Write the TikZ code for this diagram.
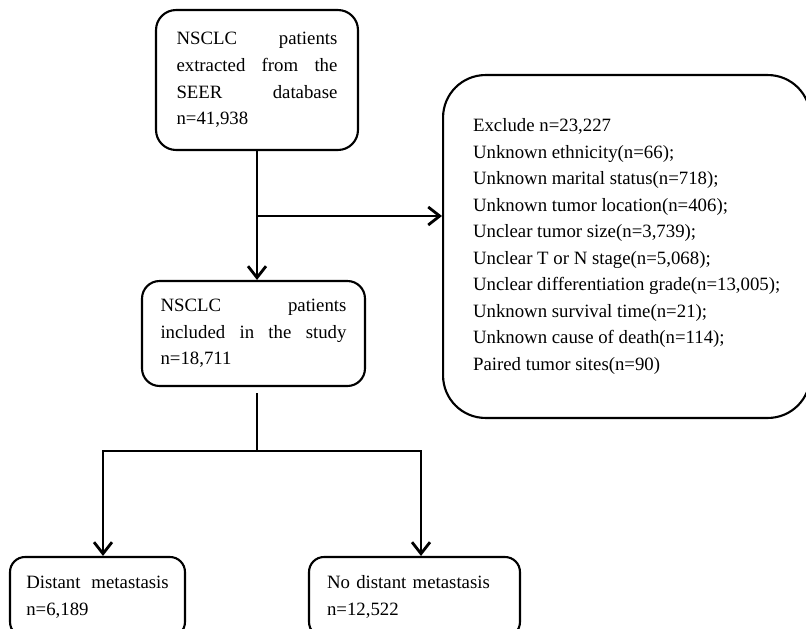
\documentclass[tikz,border=0pt]{standalone}
\usepackage{fontspec}
\setmainfont{Liberation Serif}
\usetikzlibrary{arrows.meta}
\tikzstyle{stepbox} = [rectangle, rounded corners=0.4cm, draw=black, line width=1.2pt, align=left, font=\fontsize{10.7pt}{15.1pt}\selectfont]
\tikzstyle{arrow} = [line width=1.6pt, -{Straight Barb[length=2.3mm, width=3.6mm]}]
\tikzstyle{line} = [line width=1.6pt]

\begin{document}
\begin{tikzpicture}[x=0.02cm, y=-0.02cm]
        \clip (0,0) rectangle (806,629);
        \fill [white] (0,0) rectangle (806,629);

        % Nodes
        \node (source) [stepbox, minimum width=4.04cm, minimum height=2.8cm, text width=3.22cm] at (257,80) {NSCLC\hfill patients\\ extracted\hfill from\hfill the\\ SEER\hfill database\\ n=41,938};
        \node (study) [stepbox, minimum width=4.46cm, minimum height=2.1cm, text width=3.72cm, rounded corners=0.35cm] at (253.5,333.5) {NSCLC\hfill patients\\ included\hfill in\hfill the\hfill study\\ n=18,711};
        \node (exclude) [stepbox, anchor=west, inner xsep=0.6cm, minimum height=6.86cm, rounded corners=0.85cm] at (442,246.5) {Exclude n=23,227\\ Unknown ethnicity(n=66);\\ Unknown marital status(n=718);\\ Unknown tumor location(n=406);\\ Unclear tumor size(n=3,739);\\ Unclear T or N stage(n=5,068);\\ Unclear differentiation grade(n=13,005);\\ Unknown survival time(n=21);\\ Unknown cause of death(n=114);\\ Paired tumor sites(n=90)};
        \node (distant) [stepbox, minimum width=3.5cm, minimum height=1.6cm, text width=2.85cm, rounded corners=0.3cm] at (97.5,597) {Distant\hfill metastasis\\ n=6,189};
        \node (nodistant) [stepbox, minimum width=4.22cm, minimum height=1.6cm, text width=3.5cm, rounded corners=0.3cm] at (414.5,597) {No distant metastasis\\ n=12,522};

        % Arrows
        \coordinate (split) at (257,216);
        \coordinate (fork) at (257,451);
        \coordinate (forkL) at (103,451);
        \coordinate (forkR) at (421,451);
        \draw [arrow] (source.south) -- (source.south |- study.north);
        \draw [arrow] (split) -- (split -| exclude.west);
        \draw [line] (fork |- study.south) ++(0,6) -- (fork);
        \draw [arrow] (fork) -| (forkL |- distant.north);
        \draw [arrow] (fork) -| (forkR |- nodistant.north);

    \end{tikzpicture}
\end{document}
